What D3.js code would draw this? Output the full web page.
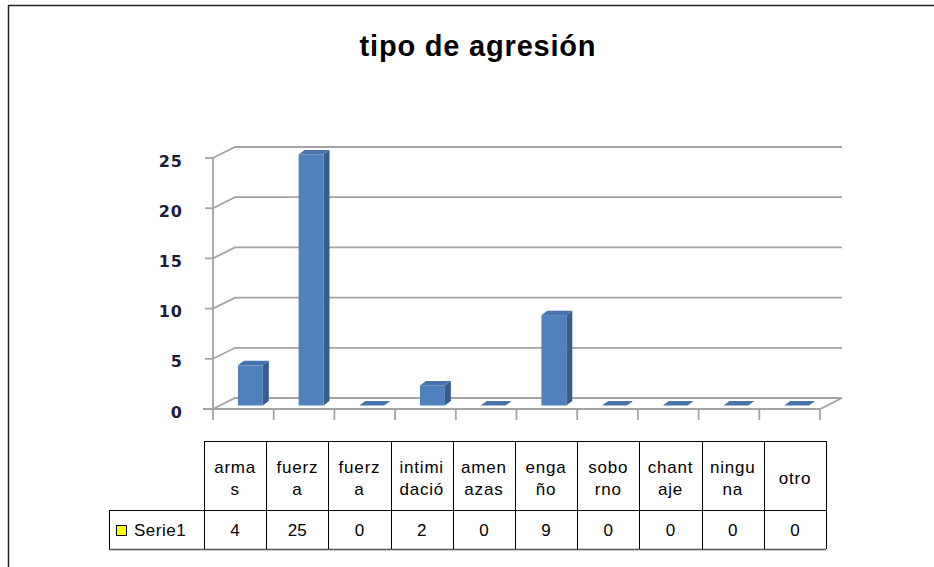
<!DOCTYPE html>
<html>
<head>
<meta charset="utf-8" />
<title>tipo de agresión</title>
<script src="https://cdnjs.cloudflare.com/ajax/libs/d3/7.8.5/d3.min.js"></script>
<style>
body { margin: 0; background: #fff; }
svg { display: block; }
</style>
</head>
<body>
<svg id="chart" width="934" height="567"></svg>
<script>
// chart data
const categories = ["armas", "fuerza", "fuerza", "intimidación", "amenazas", "engaño", "soborno", "chantaje", "ninguna", "otro"];
const headerLines = [["arma", "s"], ["fuerz", "a"], ["fuerz", "a"], ["intimi", "dació"], ["amen", "azas"], ["enga", "ño"], ["sobo", "rno"], ["chant", "aje"], ["ningu", "na"], ["otro"]];
const values = [4, 25, 0, 2, 0, 9, 0, 0, 0, 0];
const yTicks = [0, 5, 10, 15, 20, 25];
const seriesName = "Serie1";
const title = "tipo de agresión";

let svg = d3.select("#chart");

// 3D wall offset (back plane relative to front plane)
const dx = 22, dy = -11;
// bar placement inside the depth
const bx = 7, by = -3.5, bdx = 6, bdy = -4.5;

let x = d3.scaleBand()
	.domain(d3.range(categories.length))
	.range([213, 820]);
let xb = d3.scaleBand()
	.domain(d3.range(categories.length))
	.range([213, 820])
	.paddingInner(0.59)
	.paddingOuter(0.295);
let y = d3.scaleLinear()
	.domain([0, 25])
	.range([409, 158]);

// outer frame (only left and top edges are inside the picture)
svg.append("rect")
	.attr("x", 8.5).attr("y", 5.5)
	.attr("width", 1000).attr("height", 700)
	.attr("fill", "none").attr("stroke", "#222").attr("stroke-width", 1.5);

svg.append("text")
	.attr("x", 478).attr("y", 56)
	.attr("text-anchor", "middle")
	.attr("font-family", "Liberation Sans, Arial, sans-serif")
	.attr("font-weight", "bold")
	.attr("font-size", 29)
	.attr("letter-spacing", 0.8)
	.attr("fill", "#000")
	.text(title);

// gridlines on back wall with side diagonal
let grid = svg.append("g")
	.attr("stroke", "#a3a3a3")
	.attr("stroke-width", 1.8)
	.attr("fill", "none");
grid.selectAll("path.grid")
	.data(yTicks)
	.enter()
	.append("path")
	.attr("class", "grid")
	.attr("d", d => `M213,${y(d)}L${213 + dx},${y(d) + dy}L${842},${y(d) + dy}`);

// floor front edge and right diagonal
grid.append("path")
	.attr("d", `M203,409L820,409L${820 + dx},${409 + dy}`);
// vertical axis
grid.append("path")
	.attr("d", `M213,${y(25)}L213,${y(0)}`);
// y ticks
grid.selectAll("path.ytick")
	.data(yTicks)
	.enter()
	.append("path")
	.attr("class", "ytick")
	.attr("d", d => `M205,${y(d)}L213,${y(d)}`);
// category ticks
grid.selectAll("path.xtick")
	.data(d3.range(categories.length + 1))
	.enter()
	.append("path")
	.attr("class", "xtick")
	.attr("d", i => {
		let px = 213 + i * x.step();
		return `M${px},409L${px},420`;
	});

// y tick labels
svg.append("g")
	.selectAll("text")
	.data(yTicks)
	.enter()
	.append("text")
	.attr("x", 183)
	.attr("y", d => y(d) + 3)
	.attr("dy", "0.35em")
	.attr("text-anchor", "end")
	.attr("font-family", "DejaVu Sans, Verdana, sans-serif")
	.attr("font-weight", "bold")
	.attr("font-size", 16)
	.attr("letter-spacing", 1)
	.attr("fill", "#1c1c38")
	.text(d => d);

// 3D bars
let bars = svg.append("g")
	.selectAll("g")
	.data(values)
	.enter()
	.append("g");

bars.each(function (v, i) {
	let g = d3.select(this);
	let x0 = xb(i) + bx, x1 = x0 + xb.bandwidth();
	let yb = y(0) + by, yt = y(v) + by;
	if (v > 0) {
		g.append("path")
			.attr("fill", "#385d8a")
			.attr("d", `M${x1},${yb}L${x1 + bdx},${yb + bdy}L${x1 + bdx},${yt + bdy}L${x1},${yt}Z`);
		g.append("rect")
			.attr("x", x0).attr("y", yt)
			.attr("width", x1 - x0).attr("height", yb - yt)
			.attr("fill", "#4f81bd");
	}
	g.append("path")
		.attr("fill", "#4674ab")
		.attr("d", `M${x0},${yt}L${x1},${yt}L${x1 + bdx},${yt + bdy}L${x0 + bdx},${yt + bdy}Z`);
});

// data table
let tbl = svg.append("g")
	.attr("font-family", "Liberation Sans, Arial, sans-serif")
	.attr("font-size", 17)
	.attr("fill", "#000");
const tLeft = 204, tRight = 826, tTop = 441, tMid = 510, tBot = 549, legLeft = 109;
let col = d3.scaleBand()
	.domain(d3.range(categories.length))
	.range([tLeft, tRight]);

let lines = tbl.append("g").attr("stroke", "#000").attr("stroke-width", 1).attr("fill", "none");
lines.append("path").attr("d", `M${tLeft},${tTop + 0.5}H${tRight}`);
lines.append("path").attr("d", `M${legLeft},${tMid + 0.5}H${tRight}`);
lines.append("path").attr("d", `M${legLeft},${tBot + 0.5}H${tRight}`).attr("stroke", "#555").attr("stroke-width", 1.5);
lines.append("path").attr("d", `M${legLeft + 0.5},${tMid}V${tBot}`);
lines.selectAll("path.col")
	.data(d3.range(categories.length + 1))
	.enter()
	.append("path")
	.attr("class", "col")
	.attr("d", i => {
		let px = Math.round(tLeft + i * col.step()) + 0.5;
		return `M${px},${tTop}V${tBot}`;
	});

// header labels
tbl.selectAll("text.head")
	.data(headerLines)
	.enter()
	.append("text")
	.attr("class", "head")
	.attr("text-anchor", "middle")
	.attr("letter-spacing", 0.8)
	.each(function (ls, i) {
		let cx = col(i) + col.bandwidth() / 2;
		let t = d3.select(this);
		let start = ls.length == 1 ? 478 : 467;
		ls.forEach((s, k) => {
			t.append("tspan")
				.attr("x", cx)
				.attr("y", start + k * 22)
				.attr("dy", "0.35em")
				.text(s);
		});
	});

// value row
tbl.selectAll("text.val")
	.data(values)
	.enter()
	.append("text")
	.attr("class", "val")
	.attr("text-anchor", "middle")
	.attr("x", (d, i) => col(i) + col.bandwidth() / 2)
	.attr("y", 530)
	.attr("dy", "0.35em")
	.text(d => d);

// legend key
tbl.append("rect")
	.attr("x", 116.5).attr("y", 525.5)
	.attr("width", 10).attr("height", 10)
	.attr("fill", "#ffff00").attr("stroke", "#000").attr("stroke-width", 1);
tbl.append("text")
	.attr("x", 134).attr("y", 530)
	.attr("dy", "0.35em")
	.attr("letter-spacing", 0.5)
	.text(seriesName);
</script>
</body>
</html>
